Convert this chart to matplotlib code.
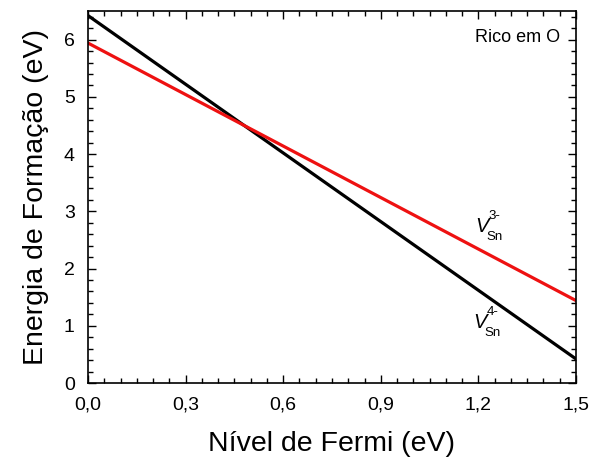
import numpy as np
import matplotlib.pyplot as plt
from matplotlib.ticker import MultipleLocator

plt.rcParams['font.family'] = ['Liberation Sans', 'DejaVu Sans']

# Nível de Fermi (eV)
fermi = [0.0, 1.5]
# Energia de formação (eV)
e_v4 = [6.42, 0.42]   # V_Sn 4-
e_v3 = [5.94, 1.44]   # V_Sn 3-

fig = plt.figure(figsize=(5.92, 4.59), dpi=100)
ax = fig.add_axes([88/592, 1 - 383/459, 488/592, 372/459])

ax.plot(fermi, e_v4, color='black', lw=2.3)
ax.plot(fermi, e_v3, color='#ee1111', lw=2.3)

ax.set_xlim(0, 1.5)
ax.set_ylim(0, 6.5)
ax.xaxis.set_major_locator(MultipleLocator(0.3))
ax.xaxis.set_minor_locator(MultipleLocator(0.05))
ax.yaxis.set_major_locator(MultipleLocator(1))
ax.yaxis.set_minor_locator(MultipleLocator(0.2))
ax.xaxis.set_major_formatter(lambda v, p: f'{v:.1f}'.replace('.', ','))
ax.tick_params(which='both', direction='in', top=True, right=True, labelsize=14, width=1)
ax.tick_params(axis='x', pad=10)
ax.tick_params(axis='y', pad=9.5)
ax.tick_params(which='major', length=6)
ax.tick_params(which='minor', length=3.5)
for s in ax.spines.values():
    s.set_linewidth(1.2)

ax.set_xlabel('Nível de Fermi (eV)', fontsize=20.5, labelpad=12)
ax.set_ylabel('Energia de Formação (eV)', fontsize=20.5, labelpad=11)

ax.text(0.968, 0.951, 'Rico em O', transform=ax.transAxes, ha='right', va='top', fontsize=13)


def vlabel(x, y, sup):
    ax.text(x, y, 'V', fontsize=14.5, style='italic', va='baseline')
    ax.annotate('Sn', (x, y), xytext=(8, -5.5), textcoords='offset points',
                fontsize=9.5, va='baseline')
    ax.annotate(sup, (x, y), xytext=(9.4, 9.5), textcoords='offset points',
                fontsize=9.5, va='baseline')


vlabel(1.19, 2.64, '3-')
vlabel(1.185, 0.96, '4-')

fig.savefig('out.png', dpi=100)
